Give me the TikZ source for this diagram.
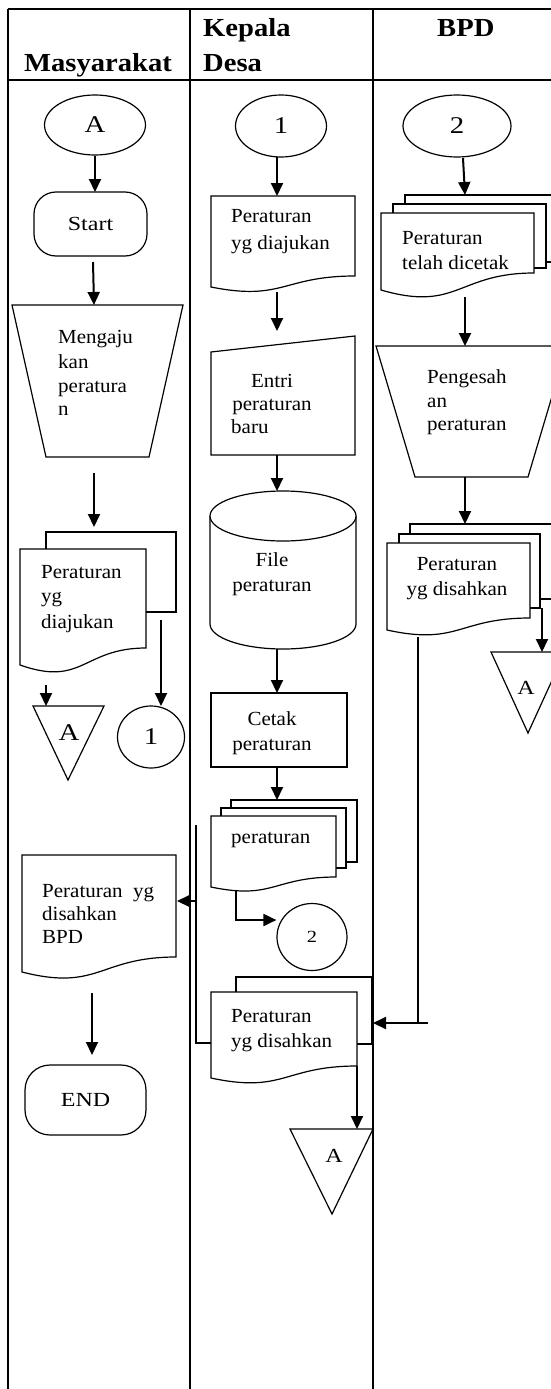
\documentclass[tikz,border=0pt]{standalone}
\usepackage{fontspec}
\setmainfont{Liberation Serif}[FakeStretch=1.05]
\newfontfamily\wideserif{Liberation Serif}[FakeStretch=1.2]
\newfontfamily\headserif{Liberation Serif Bold}[FakeStretch=1.1]
\usetikzlibrary{arrows.meta,shapes.geometric}
\newcommand{\flowdoc}[5]{%
  \draw[shp] (#1,#3) -- (#2,#3) -- (#2,#4)
    .. controls ({(#1+#2)/2},#4) and ({(#1+#2)/2},{#4+2.31*(#5-#4)}) .. (#1,#5) -- cycle;}
\begin{document}
\begin{tikzpicture}[x=1pt,y=-1pt,
  shp/.style={draw, line width=1.2pt, fill=white},
  arr/.style={line width=2pt, -{Triangle[length=13pt,width=12pt]}},
  ln/.style={line width=1.2pt},
  gridln/.style={line width=2pt},
  txt/.style={font=\fontsize{20}{24}\selectfont, inner sep=0pt, anchor=base west},
  ctxt/.style={txt, anchor=base},
  wfont/.style={font=\wideserif\fontsize{20}{24}\selectfont},
  bfont/.style={font=\wideserif\fontsize{24}{28}\selectfont},
  sfont/.style={font=\wideserif\fontsize{17}{20}\selectfont},
  head/.style={font=\headserif\fontsize{26}{30}\selectfont, inner sep=0pt, anchor=base west},
]
\useasboundingbox (0,0) rectangle (551,1389);
\clip (0,0) rectangle (551,1389);
\fill[white] (0,0) rectangle (551,1389);

% ---------- table ----------
\draw[gridln] (8,9) -- (570,9);
\draw[gridln] (8,80) -- (570,80);
\draw[gridln] (8,9) -- (8,1400);
\draw[gridln] (190,9) -- (190,1400);
\draw[gridln] (373,9) -- (373,1400);
\node[head] (hM) at (24,71) {Masyarakat};
\node[head] (hK1) at (203,37) {Kepala};
\node[head] (hK2) at (203,71) {Desa};
\node[head] (hB) at (437,37) {BPD};

% ---------- Masyarakat ----------
\node[ellipse, shp, minimum width=101pt, minimum height=60pt, inner sep=0pt, bfont] (eA) at (95,125) {A};
\node[shp, rounded corners=22pt, minimum width=113pt, minimum height=64pt, inner sep=0pt, wfont] (start) at (90.5,224) {Start};
\coordinate (a1e) at (95,192);
\draw[arr] (eA.south) -- (a1e);
\coordinate (a2s) at (93,262);
\coordinate (a2e) at (94,305);
\draw[arr] (a2s) -- (a2e);
\draw[shp] (12,305) -- (183,305) -- (149,457) -- (46,457) -- cycle;
\node[txt] (m1) at (58,343) {Mengaju};
\node[txt] (m2) at (58,368) {kan};
\node[txt] (m3) at (58,392) {peratura};
\node[txt] (m4) at (58,415) {n};
\coordinate (a3s) at (94,473);
\coordinate (a3e) at (94,527);
\draw[arr] (a3s) -- (a3e);
\draw[shp] (46,532) rectangle (176,612);
\flowdoc{20}{146}{549}{648}{665}
\node[txt] (d1a) at (41,578) {Peraturan};
\node[txt] (d1b) at (41,602) {yg};
\node[txt] (d1c) at (41,628) {diajukan};
\coordinate (a4s) at (46,685);
\coordinate (a4e) at (46,706);
\draw[arr] (a4s) -- (a4e);
\draw[shp] (33,706) -- (104,706) -- (68,780) -- cycle;
\node[bfont, inner sep=0pt] (tA1) at (69,733) {A};
\coordinate (a5s) at (161,620);
\coordinate (a5e) at (161,706);
\draw[arr] (a5s) -- (a5e);
\node[ellipse, shp, minimum width=67pt, minimum height=62pt, inner sep=0pt, bfont] (c1) at (151,737) {1};
\flowdoc{22}{176}{855}{957}{972}
\node[txt] (d2a) at (42,897) {Peraturan\ \ yg};
\node[txt] (d2b) at (42,920) {disahkan};
\node[txt] (d2c) at (42,943) {BPD};
\coordinate (a6s) at (196,901);
\coordinate (a6e) at (177,901);
\draw[arr] (a6s) -- (a6e);
\coordinate (a7s) at (92,993);
\coordinate (a7e) at (92,1055);
\draw[arr] (a7s) -- (a7e);
\node[shp, rounded corners=25pt, minimum width=121pt, minimum height=70pt, inner sep=0pt, wfont] (endn) at (85.5,1100) {END};

% ---------- Kepala Desa ----------
\node[ellipse, shp, minimum width=91pt, minimum height=62pt, inner sep=0pt, bfont] (e1) at (281,126) {1};
\coordinate (b1s) at (277,157);
\coordinate (b1e) at (277,196);
\draw[arr] (b1s) -- (b1e);
\flowdoc{211}{355}{196}{276}{287}
\node[txt] (k1a) at (231,222) {Peraturan};
\node[txt] (k1b) at (231,249) {yg diajukan};
\coordinate (b2s) at (277,292);
\coordinate (b2e) at (277,331);
\draw[arr] (b2s) -- (b2e);
\draw[shp] (211,352) -- (355,336) -- (355,455) -- (211,455) -- cycle;
\node[ctxt] (k2a) at (272,387) {Entri};
\node[ctxt] (k2b) at (272,410) {peraturan};
\node[txt] (k2c) at (231,433) {baru};
\coordinate (b3s) at (277,455);
\coordinate (b3e) at (277,491);
\draw[arr] (b3s) -- (b3e);
\draw[shp] (210,516) -- (210,624) arc[start angle=180, end angle=360, x radius=73pt, y radius=25pt] -- (356,516);
\draw[shp] (283,516) ellipse[x radius=73pt, y radius=25pt];
\node[ctxt] (k3a) at (272,566) {File};
\node[ctxt] (k3b) at (272,591) {peraturan};
\coordinate (b4s) at (277,649);
\coordinate (b4e) at (277,693);
\draw[arr] (b4s) -- (b4e);
\node[shp, minimum width=136pt, minimum height=74pt, inner sep=0pt] (cetak) at (279,730) {};
\node[ctxt] (k4a) at (272,725) {Cetak};
\node[ctxt] (k4b) at (272,750) {peraturan};
\coordinate (b5s) at (277,767);
\coordinate (b5e) at (277,800);
\draw[arr] (b5s) -- (b5e);
\draw[shp] (231,800) rectangle (357,862);
\draw[shp] (221,808) rectangle (346,868);
\flowdoc{211}{336}{816}{877}{887}
\node[txt] (k5a) at (231,843) {peraturan};
\node[ellipse, shp, minimum width=70pt, minimum height=67pt, inner sep=0pt, sfont] (c2) at (312,937) {2};
\coordinate (b6s) at (236,891);
\coordinate (b6m) at (236,920);
\draw[arr] (b6s) -- (b6m) -- (c2.west |- b6m);
\draw[shp] (236,977) rectangle (372,1044);
\flowdoc{211}{357}{992}{1066}{1078}
\node[txt] (k6a) at (231,1022) {Peraturan};
\node[txt] (k6b) at (231,1047) {yg disahkan};
\coordinate (fb1) at (211,1043);
\coordinate (fb2) at (196,1043);
\coordinate (fb3) at (196,825);
\draw[ln] (fb1) -- (fb2) -- (fb3);
\coordinate (b7s) at (357,1066);
\coordinate (b7e) at (357,1129);
\draw[arr] (b7s) -- (b7e);
\draw[shp] (290,1129) -- (373,1129) -- (332,1214) -- cycle;
\node[wfont, inner sep=0pt] (tA2) at (334,1156) {A};

% ---------- BPD ----------
\node[ellipse, shp, minimum width=108pt, minimum height=62pt, inner sep=0pt, bfont] (e2) at (457,126) {2};
\coordinate (c1s) at (463,158);
\coordinate (c1e) at (465,195);
\draw[arr] (c1s) -- (c1e);
\draw[shp] (405,195) rectangle (575,262);
\draw[shp] (393,204) rectangle (546,268);
\flowdoc{381}{534}{213}{273}{290}
\node[txt] (p1a) at (402,244) {Peraturan};
\node[txt] (p1b) at (402,269) {telah dicetak};
\coordinate (c2s) at (465,297);
\coordinate (c2e) at (465,346);
\draw[arr] (c2s) -- (c2e);
\draw[shp] (376,346) -- (567,346) -- (528,477) -- (415,477) -- cycle;
\node[txt] (p2a) at (427,383) {Pengesah};
\node[txt] (p2b) at (427,407) {an};
\node[txt] (p2c) at (427,430) {peraturan};
\coordinate (c3s) at (465,477);
\coordinate (c3e) at (465,524);
\draw[arr] (c3s) -- (c3e);
\draw[shp] (410,524) rectangle (575,599);
\draw[shp] (399,534) rectangle (540,608);
\flowdoc{387}{530}{543}{618}{630}
\node[ctxt] (p3a) at (457,570) {Peraturan};
\node[ctxt] (p3b) at (457,595) {yg disahkan};
\coordinate (c4s) at (542,608);
\coordinate (c4e) at (542,652);
\draw[arr] (c4s) -- (c4e);
\draw[shp] (491,652) -- (565,652) -- (528,733) -- cycle;
\node[wfont, inner sep=0pt] (tA3) at (526,688) {A};
\coordinate (c5s) at (418,637);
\coordinate (c5m) at (418,1023);
\draw[ln] (c5s) -- (c5m);
\coordinate (c6s) at (428,1023);
\coordinate (c6e) at (373,1023);
\draw[arr] (c6s) -- (c6e);
\end{tikzpicture}
\end{document}
